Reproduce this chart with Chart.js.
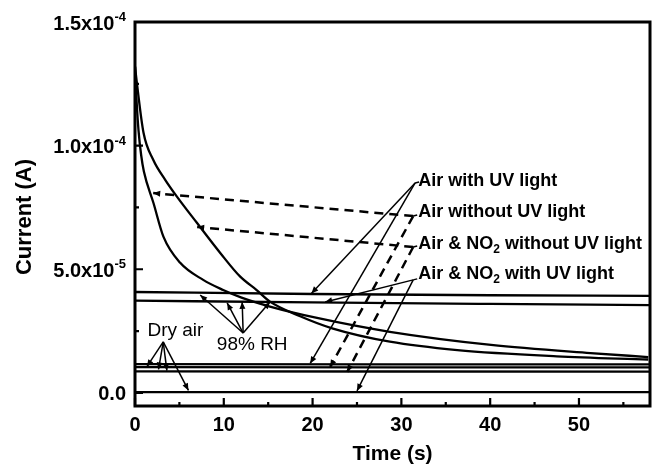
<!DOCTYPE html>
<html>
<head>
<meta charset="utf-8">
<script src="https://cdn.jsdelivr.net/npm/chart.js@4.4.0/dist/chart.umd.min.js"></script>
<style>
html, body { margin: 0; padding: 0; background: #fff; }
#wrap { width: 656px; height: 468px; }
</style>
</head>
<body>
<div id="wrap"><canvas id="myChart" width="656" height="468"></canvas></div>
<script>
// axes
const xTicks = [0, 10, 20, 30, 40, 50];
const xMinorTicks = [5, 15, 25, 35, 45, 55];
const yTicks = [0, 5e-5, 1e-4, 1.5e-4];
const yTickMant = ["0.0", "5.0x10", "1.0x10", "1.5x10"];
const yTickExp = ["", "-5", "-4", "-4"];
const yMinorTicks = [2.5e-5, 7.5e-5, 1.25e-4];

// 98% RH, decaying curves (time in s, current in A)
const rhFastTime = [0, 0.15, 0.4, 0.7, 1.0, 2.08, 3.2, 5.09, 7.68, 9.93, 12, 15.2, 20.5, 28.7, 40.1, 51.3, 57.8];
const rhFastCurrent = [13.2e-5, 12.0e-5, 10.6e-5, 9.6e-5, 8.95e-5, 7.68e-5, 6.32e-5, 5.26e-5, 4.57e-5, 4.16e-5, 3.85e-5, 3.49e-5, 3.03e-5, 2.47e-5, 1.94e-5, 1.61e-5, 1.45e-5];
const rhSlowTime = [0, 0.21, 0.96, 2.05, 3.4, 4.72, 6.97, 9.6, 11.85, 13.7, 15.2, 18.6, 22.3, 28.7, 36.3, 47.5, 57.8];
const rhSlowCurrent = [13.2e-5, 12.54e-5, 10.52e-5, 9.43e-5, 8.62e-5, 7.94e-5, 6.88e-5, 5.66e-5, 4.70e-5, 4.16e-5, 3.69e-5, 3.1e-5, 2.6e-5, 2.07e-5, 1.73e-5, 1.48e-5, 1.35e-5];
// 98% RH, flat curves
const rhFlatTime = [0, 20, 40, 58];
const rhFlatUpper = [4.08e-5, 4.0e-5, 3.95e-5, 3.92e-5];
const rhFlatLower = [3.73e-5, 3.66e-5, 3.6e-5, 3.55e-5];
// dry air
const dryTime = [0, 58];
const dryA = [1.16e-5, 1.15e-5];
const dryB = [1.04e-5, 1.03e-5];
const dryC = [0.87e-5, 0.86e-5];
const dryD = [0.03e-5, 0.03e-5];

// annotation labels and leaders (data coordinates)
const labelParts = [["Air with UV light"], ["Air without UV light"], ["Air & NO", "2", " without UV light"], ["Air & NO", "2", " with UV light"]];
const labelX = [31.9, 31.9, 31.9, 31.9];
const labelY = [8.57e-5, 7.32e-5, 6.02e-5, 4.81e-5];
const leaderFromX = [31.55, 31.33, 31.33, 31.33];
const leaderFromY = [8.49e-5, 7.15e-5, 5.90e-5, 4.57e-5];
const leaderToX = [[19.86, 19.73], [2.05, 21.98], [7.0, 23.9], [21.42, 25.0]];
const leaderToY = [[4.02e-5, 1.19e-5], [8.08e-5, 1.05e-5], [6.71e-5, 0.85e-5], [3.68e-5, 0.08e-5]];
const leaderDashed = [false, true, true, false];

const groupText = ["Dry air", "98% RH"];
const groupX = [4.55, 13.2];
const groupY = [2.50e-5, 1.94e-5];
const groupApexX = [3.18, 12.18];
const groupApexY = [2.06e-5, 2.42e-5];
const groupToX = [[1.34, 2.65, 3.59, 6.02], [7.34, 10.38, 12.07, 15.2]];
const groupToY = [[1.06e-5, 0.95e-5, 0.9e-5, 0.1e-5], [3.96e-5, 3.64e-5, 3.68e-5, 3.68e-5]];

const FONT = "'Liberation Sans', Arial, sans-serif";

const pts = (t, v) => t.map((x, i) => ({ x: x, y: v[i] }));
const line = (t, v) => ({
    data: pts(t, v),
    borderColor: "#000",
    borderWidth: 2.3,
    pointRadius: 0,
    fill: false,
    cubicInterpolationMode: "monotone"
});

function arrow(ctx, x0, y0, x1, y1, dashed) {
    ctx.save();
    ctx.strokeStyle = "#000";
    ctx.fillStyle = "#000";
    ctx.lineWidth = dashed ? 2.5 : 1.5;
    ctx.setLineDash(dashed ? [9, 6] : []);
    ctx.beginPath();
    ctx.moveTo(x0, y0);
    ctx.lineTo(x1, y1);
    ctx.stroke();
    ctx.setLineDash([]);
    const a = Math.atan2(y1 - y0, x1 - x0);
    const L = 7, W = 3;
    const c = Math.cos(a), s = Math.sin(a);
    ctx.beginPath();
    ctx.moveTo(x1, y1);
    ctx.lineTo(x1 - L * c + W * s, y1 - L * s - W * c);
    ctx.lineTo(x1 - L * c - W * s, y1 - L * s + W * c);
    ctx.closePath();
    ctx.fill();
    ctx.restore();
}

const decor = {
    id: "decor",
    afterDraw(chart) {
        const ctx = chart.ctx;
        const a = chart.chartArea;
        const xs = chart.scales.x, ys = chart.scales.y;
        ctx.save();
        ctx.strokeStyle = "#000";
        ctx.fillStyle = "#000";

        // frame
        ctx.lineWidth = 3;
        ctx.strokeRect(a.left, a.top, a.right - a.left, a.bottom - a.top);

        // ticks (inside)
        ctx.lineWidth = 2.2;
        ctx.beginPath();
        xTicks.forEach(v => { const p = xs.getPixelForValue(v); ctx.moveTo(p, a.bottom); ctx.lineTo(p, a.bottom - 8); });
        xMinorTicks.forEach(v => { const p = xs.getPixelForValue(v); ctx.moveTo(p, a.bottom); ctx.lineTo(p, a.bottom - 4); });
        yTicks.forEach(v => { const p = ys.getPixelForValue(v); ctx.moveTo(a.left, p); ctx.lineTo(a.left + 8, p); });
        yMinorTicks.forEach(v => { const p = ys.getPixelForValue(v); ctx.moveTo(a.left, p); ctx.lineTo(a.left + 4, p); });
        ctx.stroke();

        // tick labels
        ctx.font = "bold 20px " + FONT;
        ctx.textAlign = "center";
        ctx.textBaseline = "middle";
        xTicks.forEach(v => ctx.fillText(String(v), xs.getPixelForValue(v), 425));

        yTicks.forEach((v, i) => {
            const p = ys.getPixelForValue(v);
            ctx.font = "bold 20px " + FONT;
            const mw = ctx.measureText(yTickMant[i]).width;
            ctx.font = "bold 13px " + FONT;
            const ew = yTickExp[i] ? ctx.measureText(yTickExp[i]).width : 0;
            const right = 126;
            ctx.textAlign = "left";
            ctx.textBaseline = "alphabetic";
            ctx.font = "bold 20px " + FONT;
            ctx.fillText(yTickMant[i], right - ew - mw, p + 7.5);
            if (yTickExp[i]) {
                ctx.font = "bold 13px " + FONT;
                ctx.fillText(yTickExp[i], right - ew, p - 1);
            }
        });

        // axis titles
        ctx.font = "bold 21px " + FONT;
        ctx.textAlign = "center";
        ctx.textBaseline = "middle";
        ctx.fillText("Time (s)", (a.left + a.right) / 2, 454);
        ctx.save();
        ctx.translate(25, 217);
        ctx.rotate(-Math.PI / 2);
        ctx.font = "bold 22px " + FONT;
        ctx.fillText("Current (A)", 0, 0);
        ctx.restore();

        // series labels with leaders
        labelParts.forEach((parts, i) => {
            let px = xs.getPixelForValue(labelX[i]);
            const py = ys.getPixelForValue(labelY[i]);
            ctx.textAlign = "left";
            ctx.textBaseline = "middle";
            parts.forEach((txt, k) => {
                const sub = parts.length === 3 && k === 1;
                ctx.font = sub ? "bold 12px " + FONT : "bold 18px " + FONT;
                ctx.fillText(txt, px, sub ? py + 6 : py);
                px += ctx.measureText(txt).width;
            });
            const fx = xs.getPixelForValue(leaderFromX[i]);
            const fy = ys.getPixelForValue(leaderFromY[i]);
            ctx.lineWidth = 1.5;
            ctx.beginPath();
            ctx.moveTo(fx, fy);
            ctx.lineTo(fx + 4, fy - 1);
            ctx.stroke();
            leaderToX[i].forEach((tx, k) => {
                arrow(ctx, fx, fy, xs.getPixelForValue(tx), ys.getPixelForValue(leaderToY[i][k]), leaderDashed[i]);
            });
        });

        // group labels
        groupText.forEach((txt, i) => {
            ctx.font = "19px " + FONT;
            ctx.textAlign = "center";
            ctx.textBaseline = "middle";
            ctx.fillText(txt, xs.getPixelForValue(groupX[i]), ys.getPixelForValue(groupY[i]));
            const ax = xs.getPixelForValue(groupApexX[i]);
            const ay = ys.getPixelForValue(groupApexY[i]);
            groupToX[i].forEach((tx, k) => {
                arrow(ctx, ax, ay, xs.getPixelForValue(tx), ys.getPixelForValue(groupToY[i][k]), false);
            });
        });
        ctx.restore();
    }
};

const ctx = document.getElementById("myChart").getContext("2d");
const chart = new Chart(ctx, {
    type: "line",
    data: {
        datasets: [
            line(rhFastTime, rhFastCurrent),
            line(rhSlowTime, rhSlowCurrent),
            line(rhFlatTime, rhFlatUpper),
            line(rhFlatTime, rhFlatLower),
            line(dryTime, dryA),
            line(dryTime, dryB),
            line(dryTime, dryC),
            line(dryTime, dryD)
        ]
    },
    options: {
        responsive: false,
        animation: false,
        layout: { padding: { left: 135, right: 6, top: 22, bottom: 62 } },
        scales: {
            x: { type: "linear", min: 0, max: 58, display: false },
            y: { type: "linear", min: -5.3e-6, max: 1.5e-4, display: false }
        },
        plugins: {
            legend: { display: false },
            tooltip: { enabled: false }
        }
    },
    plugins: [decor]
});
</script>
</body>
</html>
